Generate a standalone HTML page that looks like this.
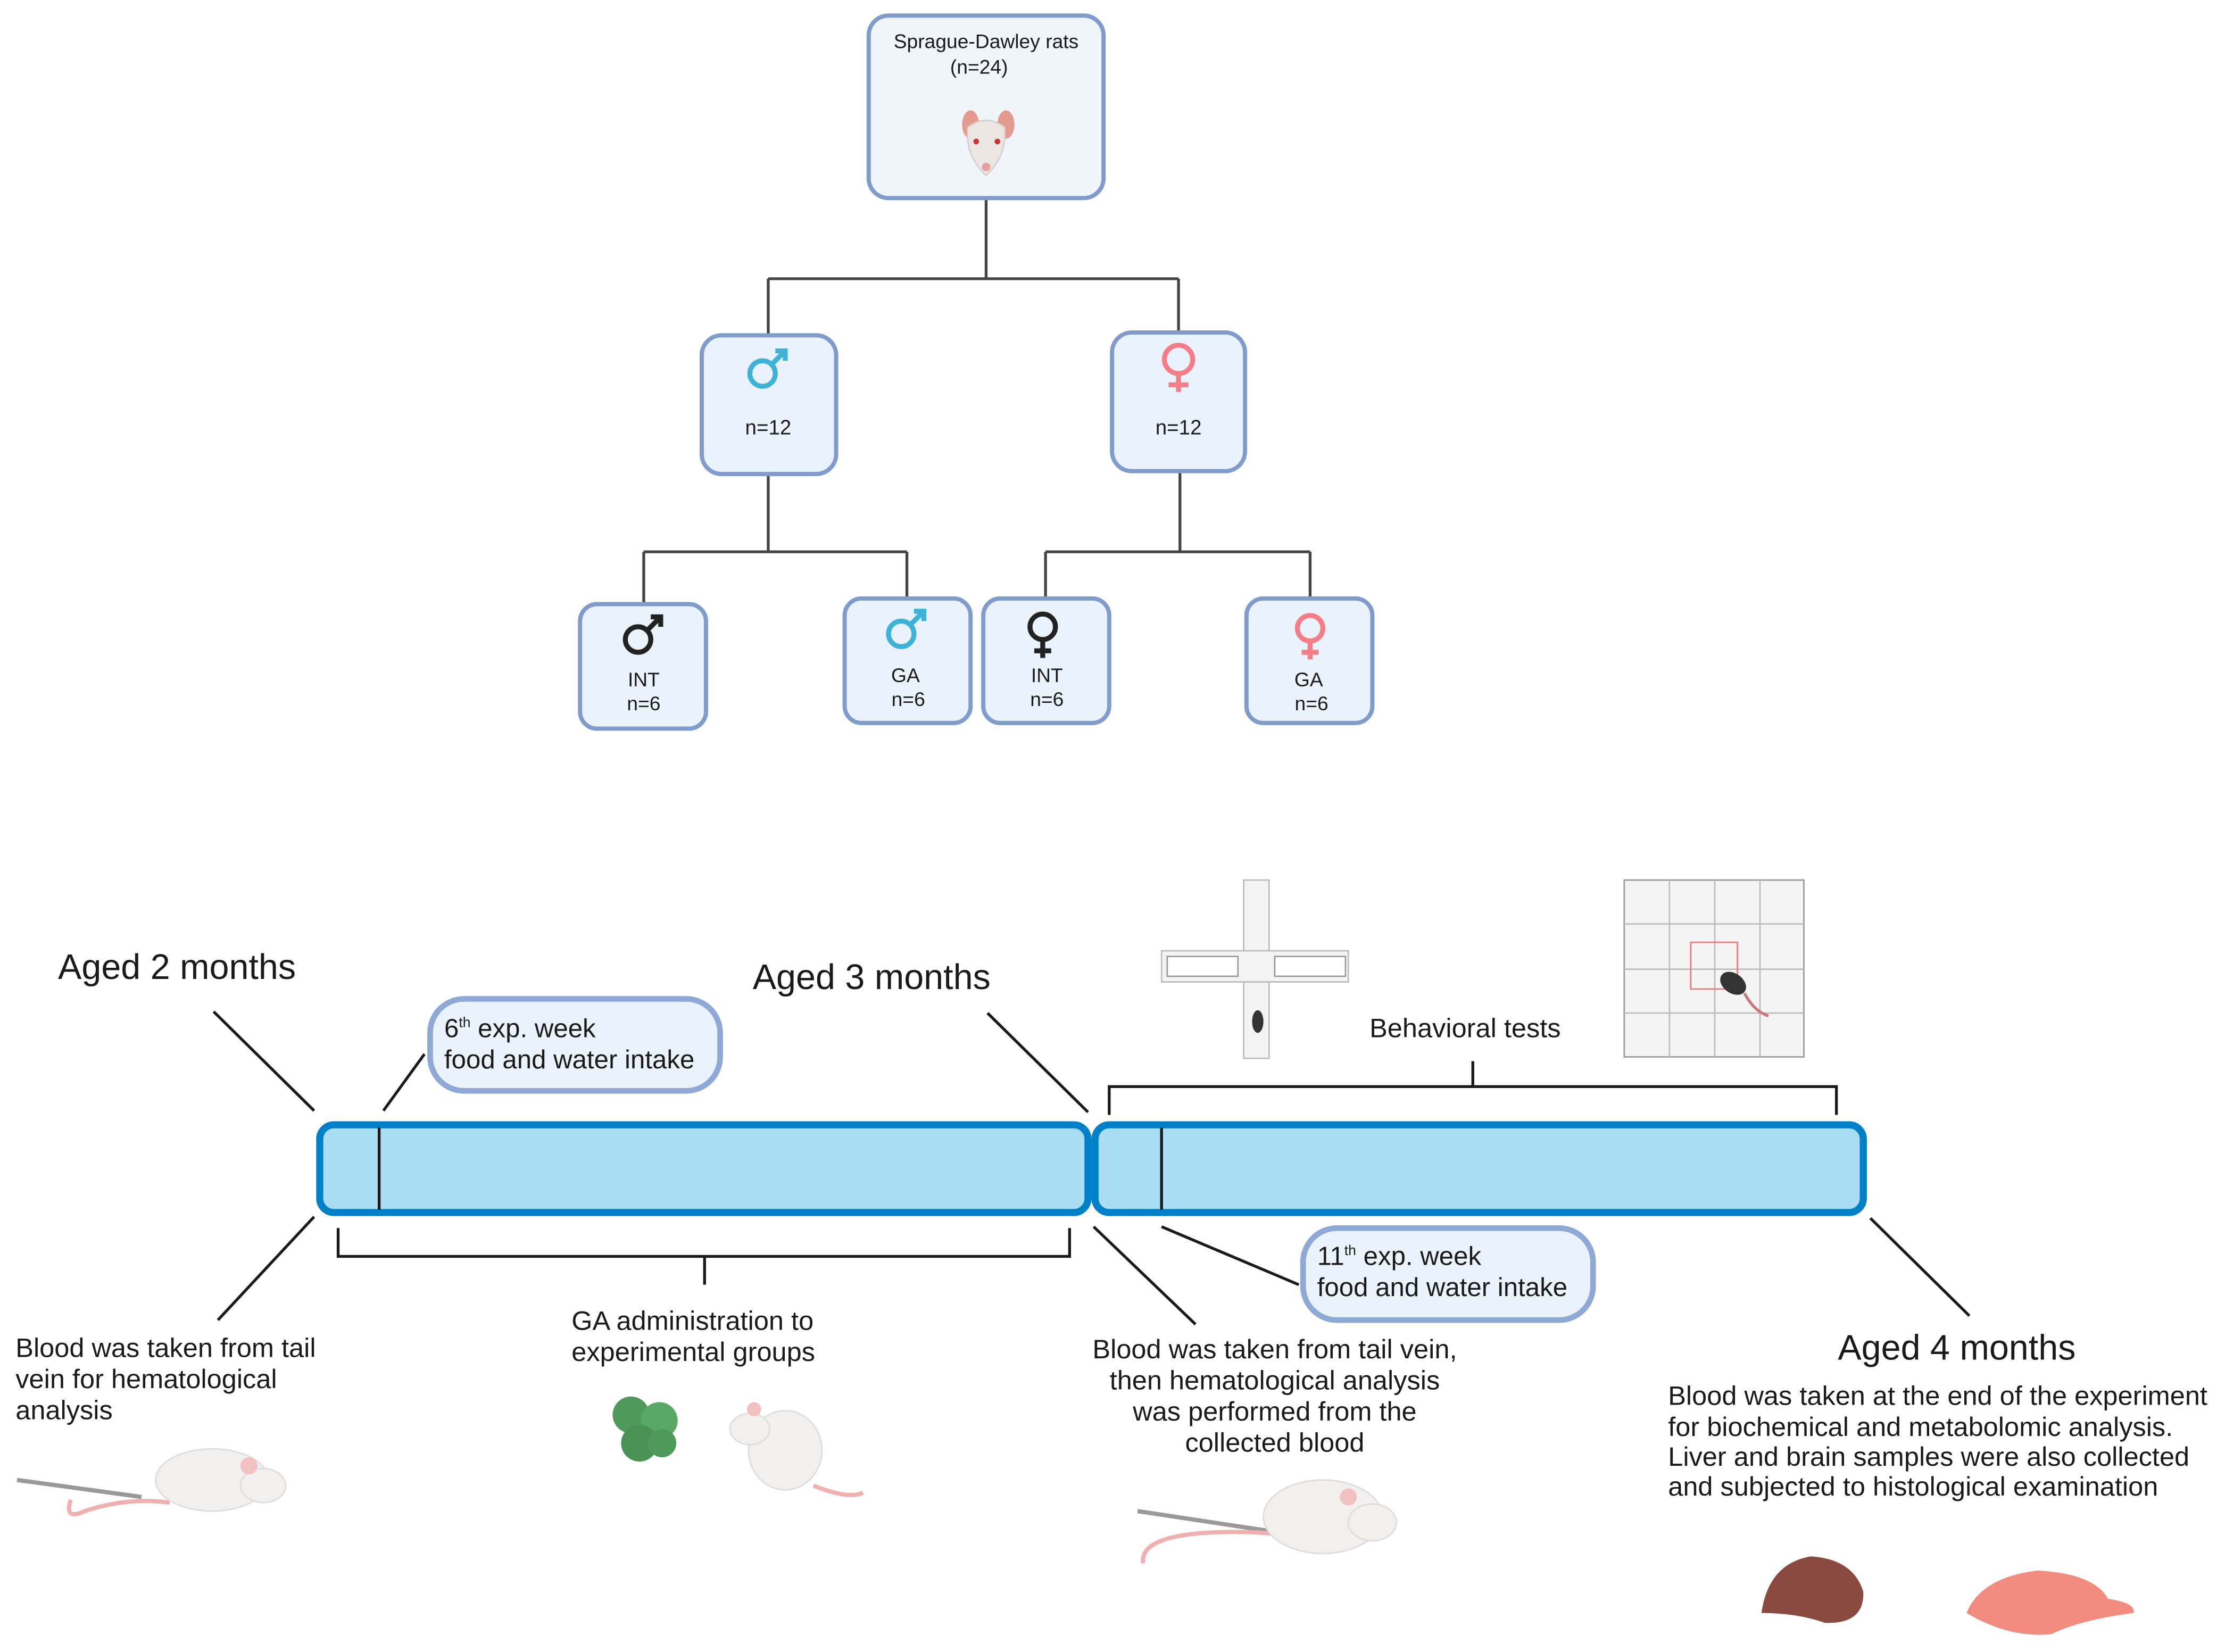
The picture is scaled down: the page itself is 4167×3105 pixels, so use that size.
<!DOCTYPE html>
<html><head><meta charset="utf-8"><style>
html,body{margin:0;padding:0;background:#fff}
svg{display:block}
text{font-family:"Liberation Sans",sans-serif;fill:#1a1a1a}
</style></head><body>
<svg width="4167" height="3105" viewBox="0 0 1567 1167.6" preserveAspectRatio="none" xmlns="http://www.w3.org/2000/svg">
<rect width="1567" height="1168" fill="#fff"/>
<g stroke="#444" stroke-width="2" fill="none">
<path d="M697 140V197M543 197H833M543 197V237M833 197V235"/>
<path d="M543 335V390M455 390H641M455 390V427M641 390V423"/>
<path d="M834 333V390M739 390H926M739 390V423M926 390V423"/>
</g>
<rect x="614" y="11" width="166" height="129" rx="14" fill="#f0f5fb" stroke="#7f9ccc" stroke-width="3"/>
<text x="697" y="34" font-size="14" text-anchor="middle">Sprague-Dawley rats</text>
<text x="692" y="52" font-size="14" text-anchor="middle">(n=24)</text>
<ellipse cx="686" cy="88" rx="6" ry="10" fill="#e59a90"/>
<ellipse cx="711" cy="88" rx="6" ry="10" fill="#e59a90"/>
<path d="M684 90Q697 80 710 90Q712 110 697 124Q682 110 684 90Z" fill="#ece6e2" stroke="#d9cfca"/>
<circle cx="690" cy="100" r="2" fill="#c33"/><circle cx="705" cy="100" r="2" fill="#c33"/>
<circle cx="697" cy="118" r="3" fill="#e7a0a0"/>
<rect x="496" y="237" width="95" height="98" rx="14" fill="#eaf2fb" stroke="#7f9ccc" stroke-width="3"/>
<text x="543" y="307" font-size="14.5" text-anchor="middle">n=12</text>
<g stroke="#3fb3d7" stroke-width="3.5" fill="none"><circle cx="539" cy="264" r="9"/><path d="M546 257L555 248M548 248H555V255"/></g>
<rect x="786" y="235" width="94" height="98" rx="14" fill="#eaf2fb" stroke="#7f9ccc" stroke-width="3"/>
<text x="833" y="307" font-size="14.5" text-anchor="middle">n=12</text>
<g stroke="#f47e88" stroke-width="3.5" fill="none"><circle cx="833" cy="254" r="10"/><path d="M833 264V277M826 272H840"/></g>
<rect x="410" y="427" width="89" height="88" rx="12" fill="#eaf2fb" stroke="#7f9ccc" stroke-width="3"/>
<g stroke="#222" stroke-width="3.5" fill="none"><circle cx="451" cy="452" r="9"/><path d="M458 445L467 436M460 436H467V443"/></g>
<text x="455" y="485" font-size="14" text-anchor="middle">INT</text><text x="455" y="502" font-size="14" text-anchor="middle">n=6</text>
<rect x="597" y="423" width="89" height="88" rx="12" fill="#eaf2fb" stroke="#7f9ccc" stroke-width="3"/>
<g stroke="#3fb3d7" stroke-width="3.5" fill="none"><circle cx="637" cy="448" r="9"/><path d="M644 441L653 432M646 432H653V439"/></g>
<text x="640" y="482" font-size="14" text-anchor="middle">GA</text><text x="642" y="499" font-size="14" text-anchor="middle">n=6</text>
<rect x="695" y="423" width="89" height="88" rx="12" fill="#eaf2fb" stroke="#7f9ccc" stroke-width="3"/>
<g stroke="#222" stroke-width="3.5" fill="none"><circle cx="737" cy="443" r="9"/><path d="M737 452V465M731 460H743"/></g>
<text x="740" y="482" font-size="14" text-anchor="middle">INT</text><text x="740" y="499" font-size="14" text-anchor="middle">n=6</text>
<rect x="881" y="423" width="89" height="88" rx="12" fill="#eaf2fb" stroke="#7f9ccc" stroke-width="3"/>
<g stroke="#f47e88" stroke-width="3.5" fill="none"><circle cx="926" cy="444" r="9"/><path d="M926 453V466M920 461H932"/></g>
<text x="925" y="485" font-size="14" text-anchor="middle">GA</text><text x="927" y="502" font-size="14" text-anchor="middle">n=6</text>
<rect x="226" y="795" width="543" height="62" rx="10" fill="#aadcf4" stroke="#0080c6" stroke-width="5"/>
<rect x="774" y="795" width="543" height="62" rx="10" fill="#aadcf4" stroke="#0080c6" stroke-width="5"/>
<g stroke="#1a1a1a" stroke-width="2" fill="none">
<path d="M268 797V855M821 797V855"/>
<path d="M151 715L222 785M271 785L300 745M698 716L769 786M222 860L154 933M773 867L845 936M821 867L918 908M1322 861L1392 930"/>
<path d="M784 788V768H1298V788M1041 768V750"/>
<path d="M239 868V888H756V868M498 888V908"/>
</g>
<rect x="304" y="706" width="205" height="65" rx="24" fill="#eaf2fb" stroke="#8fa9d6" stroke-width="4"/>
<text x="314" y="733" font-size="18.5">6<tspan font-size="10" dy="-7">th</tspan><tspan dy="7"> exp. week</tspan></text>
<text x="314" y="755" font-size="18.5">food and water intake</text>
<rect x="921" y="868" width="205" height="65" rx="24" fill="#eaf2fb" stroke="#8fa9d6" stroke-width="4"/>
<text x="931" y="894" font-size="18.5">11<tspan font-size="10" dy="-7">th</tspan><tspan dy="7"> exp. week</tspan></text>
<text x="931" y="916" font-size="18.5">food and water intake</text>
<text x="41" y="692" font-size="25">Aged 2 months</text>
<text x="532" y="699" font-size="25">Aged 3 months</text>
<text x="1299" y="961" font-size="25">Aged 4 months</text>
<text x="968" y="733" font-size="19">Behavioral tests</text>
<g font-size="19">
<text x="11" y="959">Blood was taken from tail</text>
<text x="11" y="981">vein for hematological</text>
<text x="11" y="1003">analysis</text>
<text x="404" y="940">GA administration to</text>
<text x="404" y="962">experimental groups</text>
<text x="901" y="960" text-anchor="middle">Blood was taken from tail vein,</text>
<text x="901" y="982" text-anchor="middle">then hematological analysis</text>
<text x="901" y="1004" text-anchor="middle">was performed from the</text>
<text x="901" y="1026" text-anchor="middle">collected blood</text>
<text x="1179" y="993">Blood was taken at the end of the experiment</text>
<text x="1179" y="1015">for biochemical and metabolomic analysis.</text>
<text x="1179" y="1036">Liver and brain samples were also collected</text>
<text x="1179" y="1057">and subjected to histological examination</text>
</g>
<rect x="879" y="622" width="18" height="126" fill="#f3f3f3" stroke="#bbb"/>
<rect x="821" y="672" width="132" height="22" fill="#f3f3f3" stroke="#bbb"/>
<rect x="825" y="676" width="50" height="14" fill="#fff" stroke="#999"/>
<rect x="901" y="676" width="50" height="14" fill="#fff" stroke="#999"/>
<ellipse cx="889" cy="722" rx="4" ry="8" fill="#333"/>
<rect x="1148" y="622" width="127" height="125" fill="#f4f4f4" stroke="#999"/>
<g stroke="#bbb"><path d="M1180 622V747M1212 622V747M1244 622V747M1148 653H1275M1148 685H1275M1148 716H1275"/></g>
<rect x="1195" y="666" width="33" height="33" fill="none" stroke="#e77"/>
<ellipse cx="1225" cy="695" rx="10" ry="7" fill="#333" transform="rotate(35 1225 695)"/>
<path d="M1233 702Q1240 715 1250 718" stroke="#c77" stroke-width="2" fill="none"/>
<g>
<path d="M12 1046L100 1058" stroke="#999" stroke-width="3"/>
<path d="M50 1060Q45 1075 60 1068Q90 1058 120 1062" stroke="#f0b0b0" stroke-width="3" fill="none"/>
<ellipse cx="150" cy="1046" rx="40" ry="22" fill="#f2f0ee" stroke="#ddd"/>
<ellipse cx="186" cy="1050" rx="16" ry="12" fill="#f2f0ee" stroke="#ddd"/>
<circle cx="176" cy="1036" r="6" fill="#f2c0c0"/>
</g>
<g>
<circle cx="446" cy="1000" r="13" fill="#4f9a5b"/>
<circle cx="466" cy="1004" r="13" fill="#5aa866"/>
<circle cx="452" cy="1020" r="13" fill="#4a9156"/>
<circle cx="468" cy="1020" r="10" fill="#4f9a5b"/>
<ellipse cx="555" cy="1025" rx="26" ry="28" fill="#f2f0ee" stroke="#ddd"/>
<ellipse cx="530" cy="1010" rx="14" ry="11" fill="#f2f0ee" stroke="#ddd"/>
<circle cx="533" cy="996" r="5" fill="#f2c0c0"/>
<path d="M575 1050Q600 1060 610 1055" stroke="#f0b0b0" stroke-width="3" fill="none"/>
</g>
<g>
<path d="M804 1068L910 1084" stroke="#999" stroke-width="3"/>
<path d="M808 1105Q805 1085 860 1083Q890 1082 905 1085" stroke="#f0b0b0" stroke-width="3" fill="none"/>
<ellipse cx="935" cy="1072" rx="42" ry="26" fill="#f2f0ee" stroke="#ddd"/>
<ellipse cx="970" cy="1076" rx="17" ry="13" fill="#f2f0ee" stroke="#ddd"/>
<circle cx="953" cy="1058" r="6" fill="#f2c0c0"/>
</g>
<path d="M1245 1140Q1250 1105 1280 1100Q1310 1102 1317 1125Q1318 1148 1290 1147Q1270 1140 1245 1140Z" fill="#8a4a3f"/>
<path d="M1390 1140Q1400 1115 1440 1110Q1480 1112 1490 1130Q1510 1133 1508 1140Q1470 1145 1450 1155Q1420 1158 1390 1140Z" fill="#f28b80"/>
</svg>
</body></html>
